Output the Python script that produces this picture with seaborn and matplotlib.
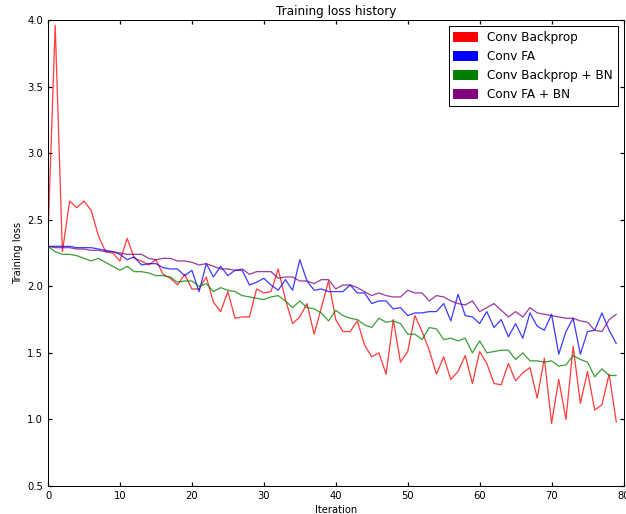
import numpy as np
import pandas as pd
import seaborn as sns
import matplotlib.pyplot as plt
from matplotlib.patches import Patch

# Loss values (one value per iteration)
iterations = list(range(80))

conv_backprop = [
    2.38, 3.96, 2.26, 2.64, 2.59, 2.64, 2.57, 2.38, 2.26, 2.25,
    2.19, 2.36, 2.21, 2.19, 2.16, 2.20, 2.09, 2.06, 2.01, 2.09,
    1.98, 1.98, 2.07, 1.88, 1.81, 1.96, 1.76, 1.77, 1.77, 1.98,
    1.95, 1.96, 2.13, 1.90, 1.72, 1.77, 1.87, 1.64, 1.84, 2.04,
    1.75, 1.66, 1.66, 1.74, 1.56, 1.47, 1.50, 1.34, 1.75, 1.43,
    1.51, 1.78, 1.66, 1.52, 1.34, 1.47, 1.30, 1.36, 1.48, 1.27,
    1.51, 1.42, 1.27, 1.26, 1.42, 1.29, 1.35, 1.39, 1.16, 1.46,
    0.97, 1.30, 1.00, 1.55, 1.12, 1.36, 1.07, 1.11, 1.34, 0.98,
]

conv_fa = [
    2.30, 2.30, 2.30, 2.30, 2.29, 2.29, 2.29, 2.28, 2.27, 2.26,
    2.24, 2.20, 2.22, 2.16, 2.17, 2.17, 2.14, 2.13, 2.13, 2.08,
    2.12, 1.96, 2.17, 2.07, 2.15, 2.08, 2.12, 2.12, 2.01, 2.03,
    2.06, 2.01, 1.97, 2.05, 1.97, 2.20, 2.04, 1.97, 1.98, 1.96,
    1.96, 1.96, 2.01, 1.95, 1.95, 1.87, 1.89, 1.89, 1.83, 1.84,
    1.78, 1.80, 1.80, 1.81, 1.81, 1.87, 1.74, 1.94, 1.78, 1.77,
    1.72, 1.81, 1.69, 1.75, 1.62, 1.72, 1.61, 1.80, 1.70, 1.67,
    1.79, 1.49, 1.66, 1.76, 1.49, 1.66, 1.67, 1.80, 1.67, 1.57,
]

conv_backprop_bn = [
    2.30, 2.26, 2.24, 2.24, 2.23, 2.21, 2.19, 2.21, 2.18, 2.15,
    2.12, 2.15, 2.11, 2.11, 2.10, 2.08, 2.08, 2.07, 2.03, 2.04,
    2.04, 2.00, 2.02, 1.96, 1.99, 1.97, 1.96, 1.93, 1.92, 1.91,
    1.90, 1.92, 1.93, 1.89, 1.84, 1.89, 1.84, 1.83, 1.80, 1.74,
    1.82, 1.78, 1.76, 1.75, 1.71, 1.69, 1.76, 1.73, 1.74, 1.72,
    1.64, 1.64, 1.60, 1.69, 1.68, 1.60, 1.61, 1.59, 1.61, 1.50,
    1.59, 1.50, 1.51, 1.52, 1.52, 1.45, 1.50, 1.44, 1.44, 1.43,
    1.44, 1.40, 1.41, 1.48, 1.45, 1.43, 1.32, 1.38, 1.33, 1.33,
]

conv_fa_bn = [
    2.30, 2.29, 2.29, 2.29, 2.28, 2.28, 2.27, 2.27, 2.26, 2.26,
    2.25, 2.24, 2.24, 2.24, 2.21, 2.20, 2.21, 2.21, 2.19, 2.19,
    2.18, 2.16, 2.17, 2.15, 2.13, 2.13, 2.12, 2.13, 2.09, 2.11,
    2.11, 2.11, 2.06, 2.07, 2.07, 2.04, 2.04, 2.02, 2.05, 2.05,
    1.98, 2.01, 2.01, 1.99, 1.96, 1.93, 1.95, 1.93, 1.92, 1.92,
    1.97, 1.95, 1.95, 1.89, 1.93, 1.92, 1.89, 1.87, 1.86, 1.89,
    1.81, 1.84, 1.87, 1.82, 1.77, 1.81, 1.77, 1.84, 1.80, 1.79,
    1.78, 1.77, 1.76, 1.76, 1.74, 1.73, 1.67, 1.66, 1.75, 1.79,
]

labels = ["Conv Backprop", "Conv FA", "Conv Backprop + BN", "Conv FA + BN"]
colors = ["red", "blue", "green", "purple"]
series = [conv_backprop, conv_fa, conv_backprop_bn, conv_fa_bn]

# Long-form table for seaborn
df = pd.concat(
    [pd.DataFrame({"iteration": iterations, "loss": vals, "model": name})
     for name, vals in zip(labels, series)],
    ignore_index=True,
)

sns.set_theme(style="white", rc={
    "xtick.direction": "in", "ytick.direction": "in",
    "xtick.top": True, "ytick.right": True,
    "xtick.bottom": True, "ytick.left": True,
    "xtick.major.size": 4, "ytick.major.size": 4,
    "axes.edgecolor": "black", "axes.linewidth": 1.0,
    "xtick.color": "black", "ytick.color": "black",
    "text.color": "black", "axes.labelcolor": "black",
})
plt.rcParams["font.family"] = ["DejaVu Sans"]

fig = plt.figure(figsize=(626 / 72, 514 / 72), dpi=72)
ax = fig.add_axes([48 / 626, 1 - 486 / 514, (623.5 - 48) / 626, (486 - 20) / 514])

sns.lineplot(data=df, x="iteration", y="loss", hue="model",
             palette=dict(zip(labels, colors)), hue_order=labels,
             linewidth=1.3, alpha=0.75, legend=False, ax=ax)

ax.set_xlim(0, 80)
ax.set_ylim(0.5, 4.0)
ax.set_xticks(range(0, 81, 10))
ax.set_yticks(np.arange(0.5, 4.01, 0.5))
ax.tick_params(labelsize=10, pad=5)
ax.set_xlabel("Iteration", fontsize=10)
ax.set_ylabel("Training loss", fontsize=10)
ax.set_title("Training loss history", fontsize=12, pad=5)

handles = [Patch(facecolor=c, edgecolor=c) for c in colors]
leg = ax.legend(handles, labels, loc="upper right", fontsize=12,
                fancybox=False, framealpha=1, edgecolor="black",
                borderaxespad=0.5)
leg.get_frame().set_linewidth(1.0)

fig.savefig("out.png", dpi=72)
